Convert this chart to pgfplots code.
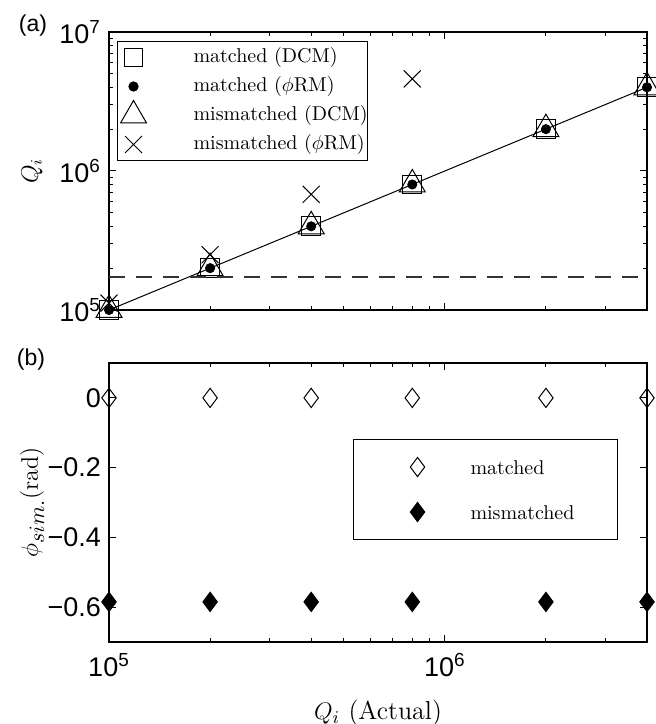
\documentclass[border=0pt]{standalone}
\usepackage{fontspec}
\usepackage{pgfplots}
\pgfplotsset{compat=1.18}
\newfontfamily\hel{Liberation Sans}

\pgfplotsset{
  myaxis/.style={
    scale only axis, width=269pt,
    axis line style={line width=0.65pt},
    every tick/.style={line width=0.5pt, black},
    major tick length=3.4pt, minor tick length=1.9pt,
    tick align=inside,
    xmin=1e5, xmax=4e6,
    xtick={1e5,1e6},
    minor xtick={2e5,3e5,4e5,5e5,6e5,7e5,8e5,9e5,2e6,3e6},
    clip mode=individual,
    tick label style={font=\hel\fontsize{13.5}{15}\selectfont},
    xticklabel style={yshift=-2pt},
    yticklabel style={xshift=-0.5pt},
    label style={font=\fontsize{11.5}{14}\selectfont},
    legend cell align=left,
  },
}

\begin{document}
\begin{tikzpicture}
% ---------------- top panel (a)
\begin{loglogaxis}[myaxis,
  at={(0pt,166pt)}, anchor=south west,
  height=139pt,
  ymin=1e5, ymax=1e7,
  ytick={1e5,1e6,1e7},
  minor ytick={2e5,3e5,4e5,5e5,6e5,7e5,8e5,9e5,2e6,3e6,4e6,5e6,6e6,7e6,8e6,9e6},
  yticklabels={10\textsuperscript{5},10\textsuperscript{6},10\textsuperscript{7}},
  xticklabels={},
  ylabel={$Q_i$},
  ylabel style={at={(axis description cs:-0.143,0.5)}, anchor=center, font=\fontsize{12}{14}\selectfont},
  legend style={at={(axis description cs:0.0149,0.9676)}, anchor=north west,
    draw=black, line width=0.5pt, fill=white,
    inner xsep=0pt, inner ysep=3.5pt, row sep=5.5pt,
    font=\fontsize{10}{12}\selectfont,
    nodes={inner sep=0pt, text height=7pt, text depth=2pt}},
  legend image code/.code={
    \path[draw=none,fill=none] (-8pt,-4pt) rectangle (30pt,4pt);
    \draw[overlay,mark repeat=2,mark phase=2,#1] plot coordinates {(-1pt,0pt) (0pt,0pt) (1pt,0pt)};
  },
]
\addplot[black, only marks, mark=square, mark size=4.7pt, line width=0.5pt]
  coordinates {(1e5,1e5) (2e5,2e5) (4e5,4e5) (8e5,8e5) (2e6,2e6) (4e6,4e6)};
\addlegendentry{matched (DCM)}
\addplot[black, only marks, mark=*, mark size=2.3pt, mark options={fill=black}]
  coordinates {(1e5,1e5) (2e5,2e5) (4e5,4e5) (8e5,8e5) (2e6,2e6) (4e6,4e6)};
\addlegendentry{matched ($\phi$RM)}
\addplot[black, only marks, mark=triangle, mark size=7.5pt, line width=0.5pt]
  coordinates {(1e5,1e5) (2e5,2e5) (4e5,4e5) (8e5,8e5) (2e6,2e6) (4e6,4e6)};
\addlegendentry{mismatched (DCM)}
\addplot[black, only marks, mark=x, mark size=6pt, line width=0.5pt]
  coordinates {(1e5,1.12e5) (2e5,2.5e5) (4e5,6.8e5) (8e5,4.6e6)};
\addlegendentry{mismatched ($\phi$RM)}
\addplot[black, forget plot, line width=0.5pt]
  coordinates {(1e5,1e5) (4e6,4e6)};
\addplot[black!80, forget plot, line width=0.6pt, dash pattern=on 8pt off 5.5pt]
  coordinates {(1e5,1.73e5) (4e6,1.73e5)};
\end{loglogaxis}

% ---------------- bottom panel (b)
\begin{semilogxaxis}[myaxis,
  at={(0pt,0pt)}, anchor=south west,
  height=139.5pt,
  ymin=-0.7, ymax=0.1,
  ytick={-0.6,-0.4,-0.2,0},
  yticklabels={−0.6,−0.4,−0.2,0},
  xticklabels={10\textsuperscript{5},10\textsuperscript{6}},
  xlabel={$Q_i$ (Actual)},
  xlabel style={at={(axis description cs:0.5,-0.2545)}, anchor=center, font=\fontsize{13}{15}\selectfont},
  ylabel={$\phi_{\mbox{\fontsize{10.5}{12}\selectfont$sim.$}}$(rad)},
  ylabel style={at={(axis description cs:-0.143,0.5)}, anchor=center, font=\fontsize{12}{14}\selectfont},
  legend style={at={(axis description cs:0.4535,0.7276)}, anchor=north west,
    draw=black, line width=0.5pt, fill=white,
    inner xsep=0pt, inner ysep=7.25pt, row sep=9.5pt,
    font=\fontsize{10}{12}\selectfont,
    nodes={inner sep=0pt, text height=10pt, text depth=3pt, text width=73.5pt, align=left}},
  legend image code/.code={
    \path[draw=none,fill=none] (-32pt,-4pt) rectangle (26.5pt,4pt);
    \draw[overlay,mark repeat=2,mark phase=2,#1] plot coordinates {(-1pt,0pt) (0pt,0pt) (1pt,0pt)};
  },
]
\addplot[black, only marks, mark=diamond, mark size=4.8pt, line width=0.5pt]
  coordinates {(1e5,0) (2e5,0) (4e5,0) (8e5,0) (2e6,0) (4e6,0)};
\addlegendentry{matched}
\addplot[black, only marks, mark=diamond*, mark size=4.8pt, line width=0.5pt, mark options={fill=black}]
  coordinates {(1e5,-0.585) (2e5,-0.585) (4e5,-0.585) (8e5,-0.585) (2e6,-0.585) (4e6,-0.585)};
\addlegendentry{mismatched}
\end{semilogxaxis}

\node[font=\hel\fontsize{11.5}{13}\selectfont] at (-38pt,308pt) {(a)};
\node[font=\hel\fontsize{11.5}{13}\selectfont] at (-39pt,141pt) {(b)};

\pgfresetboundingbox
\useasboundingbox (-54.5pt,-41pt) rectangle (273pt,321pt);
\end{tikzpicture}
\end{document}
